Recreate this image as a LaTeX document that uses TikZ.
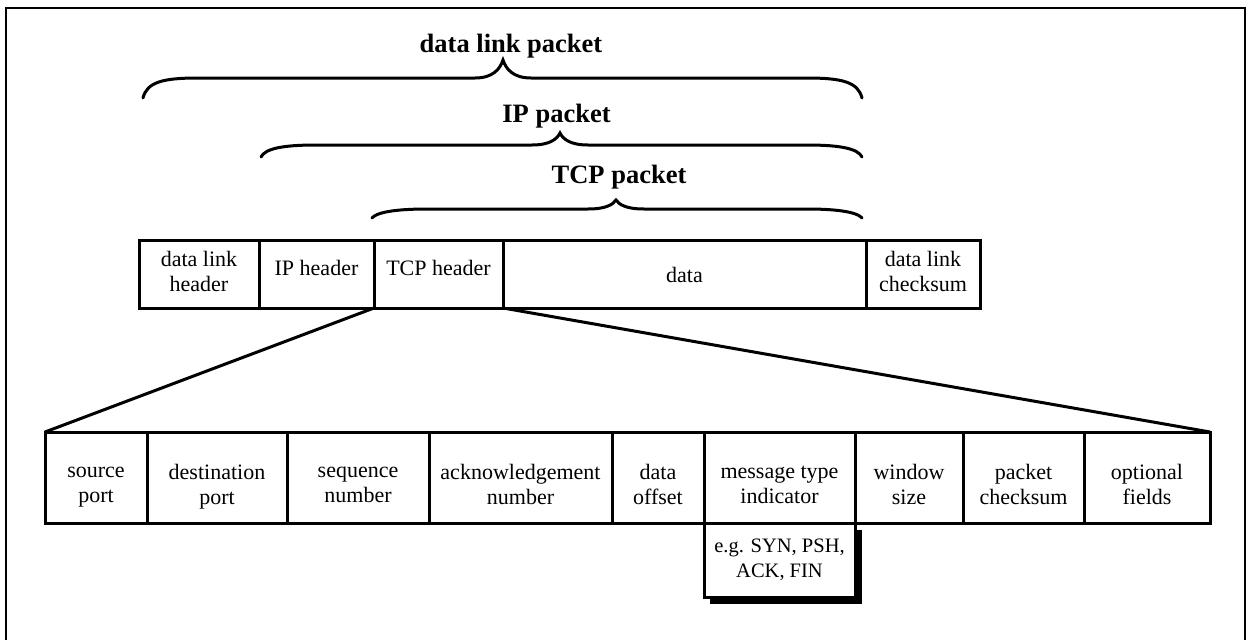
\documentclass[tikz,border=0pt]{standalone}
\usepackage{fontspec}
\setmainfont{Liberation Serif}
\begin{document}
\begin{tikzpicture}[x=1pt,y=-1pt,
  cell/.style={draw, line width=3pt, inner sep=0pt, outer sep=0pt},
  txt/.style={align=center, inner sep=0pt,
    font=\fontsize{22}{25}\selectfont,
    execute at begin node=\strut, execute at end node=\strut},
  lbl/.style={font=\fontsize{26.5}{28}\selectfont\bfseries, inner sep=0pt, anchor=base},
  bracestyle/.style={line width=3pt, line cap=round},
  fan/.style={line width=3pt},
  frame/.style={line width=2.6pt}]
\useasboundingbox (0,0) rectangle (1248,640);
\draw[frame] (6,640) -- (6,8) -- (1245,8) -- (1245,640);

\newcommand{\pktbrace}[6]{%
  \draw[bracestyle] (#1,#4) .. controls ({#1+4},{#5+4}) and ({#1+20},#5) .. ({#1+55},#5)
    -- ({#3-28},#5) .. controls ({#3-10},#5) and ({#3-3},{(#5+#6)/2}) .. (#3,#6)
    .. controls ({#3+3},{(#5+#6)/2}) and ({#3+10},#5) .. ({#3+28},#5)
    -- ({#2-55},#5) .. controls ({#2-20},#5) and ({#2-4},{#5+4}) .. (#2,#4);}

% braces and labels
\pktbrace{143}{862}{503}{98}{78}{60}
\node[lbl] (dlp) at (511,52) {data link packet};
\pktbrace{261}{862}{560}{157}{145}{133}
\node[lbl] (ipp) at (556.5,122) {IP packet};
\pktbrace{372}{862}{616}{218}{209}{200}
\node[lbl] (tcpp) at (619,183) {TCP packet};

% top row cells
\node[cell, minimum width=120pt, minimum height=68pt] (dlh) at (199,274) {};
\node[cell, minimum width=115pt, minimum height=68pt] (iph) at (316.5,274) {};
\node[cell, minimum width=129pt, minimum height=68pt] (tcph) at (438.5,274) {};
\node[cell, minimum width=363pt, minimum height=68pt] (data) at (684.5,274) {};
\node[cell, minimum width=114pt, minimum height=68pt] (dlc) at (923,274) {};
\node[txt] (dlh-t) at ([yshift=-1pt]dlh.center) {data link\\header};
\node[txt] (iph-t) at ([yshift=4pt]iph.center) {IP header};
\node[txt] (tcph-t) at ([yshift=4pt]tcph.center) {TCP header};
\node[txt] (data-t) at ([yshift=-3pt]data.center) {data};
\node[txt] (dlc-t) at ([yshift=-1pt]dlc.center) {data link\\checksum};

% bottom row cells
\node[cell, minimum width=102pt, minimum height=91pt] (sp) at (96,477.5) {};
\node[cell, minimum width=140pt, minimum height=91pt] (dp) at (217,477.5) {};
\node[cell, minimum width=142pt, minimum height=91pt] (sn) at (358,477.5) {};
\node[cell, minimum width=183pt, minimum height=91pt] (an) at (520.5,477.5) {};
\node[cell, minimum width=92pt, minimum height=91pt] (do) at (658,477.5) {};
\node[cell, minimum width=151pt, minimum height=91pt] (mt) at (779.5,477.5) {};
\node[cell, minimum width=108pt, minimum height=91pt] (ws) at (909,477.5) {};
\node[cell, minimum width=121pt, minimum height=91pt] (pc) at (1023.5,477.5) {};
\node[cell, minimum width=126pt, minimum height=91pt] (of) at (1147,477.5) {};
\node[txt] (sp-t) at ([yshift=-11pt]sp.center) {source\\port};
\node[txt] (dp-t) at ([yshift=-11pt]dp.center) {destination\\port};
\node[txt] (sn-t) at ([yshift=-11pt]sn.center) {sequence\\number};
\node[txt] (an-t) at ([yshift=-11pt]an.center) {acknowledgement\\number};
\node[txt] (do-t) at ([yshift=-11pt]do.center) {data\\offset};
\node[txt] (mt-t) at ([yshift=-11pt]mt.center) {message type\\indicator};
\node[txt] (ws-t) at ([yshift=-11pt]ws.center) {window\\size};
\node[txt] (pc-t) at ([yshift=-11pt]pc.center) {packet\\checksum};
\node[txt] (of-t) at ([yshift=-11pt]of.center) {optional\\fields};

% note with shadow
\fill (710,530) rectangle (862,604);
\node[cell, fill=white, minimum width=151pt, minimum height=74pt, anchor=north] (note) at (mt.south) {};
\node[txt, font=\fontsize{20.5}{25}\selectfont] (note-t) at ([yshift=-2pt]note.center) {e.g. SYN, PSH,\\ACK, FIN};

% fan lines
\draw[fan] (tcph.south west) -- (sp.north west);
\draw[fan] (tcph.south east) -- (of.north east);
\end{tikzpicture}
\end{document}
